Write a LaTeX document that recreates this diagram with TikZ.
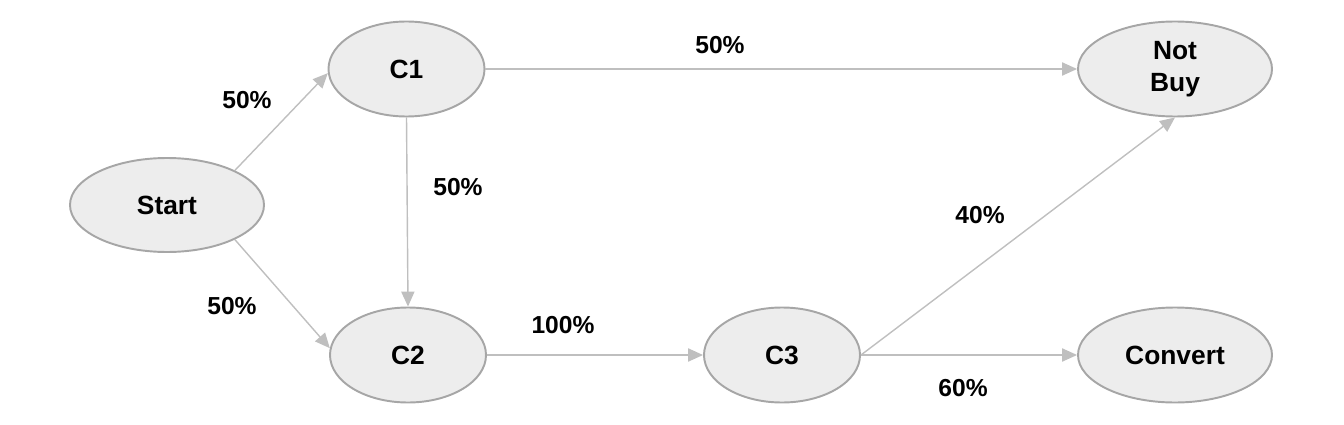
\documentclass[tikz,border=0pt]{standalone}
\usepackage{fontspec}
\setmainfont{Liberation Sans}
\usepackage{tikz}
\usetikzlibrary{arrows.meta, shapes}
\definecolor{nodefill}{RGB}{237, 237, 237}
\definecolor{nodeborder}{RGB}{166, 166, 166}
\definecolor{linkgray}{RGB}{191, 191, 191}

\begin{document}
\begin{tikzpicture}[
        state/.style={ellipse, draw=nodeborder, line width=1.1pt, fill=nodefill, inner sep=0pt,
            minimum width=3.12cm, minimum height=1.9cm, align=center,
            font=\fontsize{15}{18.5}\selectfont\bfseries},
        wide/.style={minimum width=3.88cm},
        link/.style={-{Triangle[length=8.5pt, width=7.5pt]}, linkgray, line width=0.8pt},
        prob/.style={font=\fontsize{14}{17}\selectfont\bfseries}
    ]
        \useasboundingbox (0,0) rectangle (26.88,8.48);

        % 状态节点
        \node[state, wide, minimum height=1.88cm] (start) at (3.34, 4.38) {Start};
        \node[state] (c1) at (8.13, 7.10) {C1};
        \node[state] (c2) at (8.16, 1.38) {C2};
        \node[state] (c3) at (15.64, 1.38) {C3};
        \node[state, wide] (notbuy) at (23.50, 7.10) {Not\\Buy};
        \node[state, wide] (convert) at (23.50, 1.38) {Convert};

        % 转移
        \draw[link] (start.27) -- (c1.183);
        \draw[link] (start.-27) -- (c2.175);
        \draw[link] (c1.east) -- (notbuy.west);
        \draw[link] (c1.south) -- (c2.north);
        \draw[link] (c2.east) -- (c3.west);
        \draw[link] (c3.east) -- (notbuy.south);
        \draw[link] (c3.east) -- (convert.west);

        % 概率
        \node[prob] (p1) at (4.94, 6.48) {50\%};
        \node[prob] (p2) at (4.64, 2.36) {50\%};
        \node[prob] (p3) at (14.40, 7.58) {50\%};
        \node[prob] (p4) at (9.16, 4.74) {50\%};
        \node[prob] (p5) at (11.26, 1.98) {100\%};
        \node[prob] (p6) at (19.60, 4.18) {40\%};
        \node[prob] (p7) at (19.26, 0.72) {60\%};

    \end{tikzpicture}
\end{document}
